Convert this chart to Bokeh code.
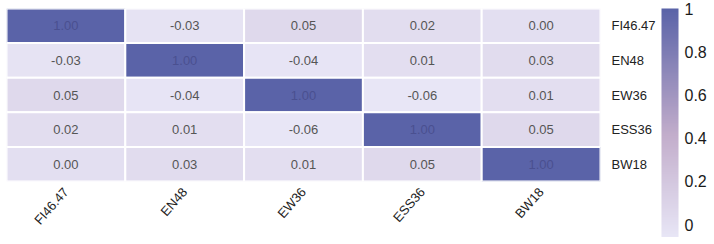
import numpy as np
from bokeh.plotting import figure
from bokeh.layouts import row
from bokeh.models import (ColumnDataSource, FactorRange, LinearColorMapper, ColorBar,
                          FixedTicker, CustomJSTickFormatter)
from bokeh.transform import transform
from bokeh.core.properties import value
from bokeh.embed import file_html
from bokeh.resources import INLINE

labels = ["FI46.47", "EN48", "EW36", "ESS36", "BW18"]
corr = [
    [1.00, -0.03, 0.05, 0.02, 0.00],
    [-0.03, 1.00, -0.04, 0.01, 0.03],
    [0.05, -0.04, 1.00, -0.06, 0.01],
    [0.02, 0.01, -0.06, 1.00, 0.05],
    [0.00, 0.03, 0.01, 0.05, 1.00],
]
cbar_ticks = [0, 0.2, 0.4, 0.6, 0.8, 1]

# palette built from a few colour stops
stops = [(0.0, (0xe8, 0xe6, 0xf6)), (0.45, (0xc2, 0xad, 0xcb)), (1.0, (0x5a, 0x63, 0xa8))]
palette = []
for t in np.linspace(0, 1, 256):
    for (p0, c0), (p1, c1) in zip(stops[:-1], stops[1:]):
        if p0 <= t <= p1:
            f = (t - p0) / (p1 - p0)
            c = [int(round(a + (b - a) * f)) for a, b in zip(c0, c1)]
            palette.append("#%02x%02x%02x" % tuple(c))
            break
mapper = LinearColorMapper(palette=palette, low=-0.06, high=1.0)

xs, ys, vs, txt, tcol = [], [], [], [], []
for i, rl in enumerate(labels):
    for j, cl in enumerate(labels):
        v = corr[i][j]
        xs.append(cl); ys.append(rl); vs.append(v)
        txt.append("%.2f" % v)
        tcol.append("#4a5090" if v > 0.5 else "#555555")
src = ColumnDataSource(dict(x=xs, y=ys, v=vs, t=txt, c=tcol))

FONT = "Liberation Sans"
p = figure(x_range=FactorRange(*labels),
           y_range=FactorRange(*reversed(labels)), output_backend="svg",
           toolbar_location=None, x_axis_location="below", y_axis_location="right",
           min_border_left=6, min_border_top=8, min_border_bottom=0, min_border_right=0)
p.frame_width = 594
p.frame_height = 173
p.rect("x", "y", width=1, height=1, source=src, fill_color=transform("v", mapper),
       line_color="white", line_width=2)
p.text("x", "y", text="t", source=src, text_color="c", text_align="center",
       text_baseline="middle", text_font=value(FONT), text_font_size="13px")
p.outline_line_color = None
p.grid.grid_line_color = None
for ax in (p.xaxis[0], p.yaxis[0]):
    ax.axis_line_color = None
    ax.major_tick_line_color = None
    ax.minor_tick_line_color = None
    ax.major_label_text_font = FONT
    ax.major_label_text_font_size = "13px"
    ax.major_label_text_color = "#222222"
p.xaxis.major_label_orientation = 0.85
p.xaxis.major_label_standoff = 2
p.yaxis.major_label_standoff = 5

p2 = figure(output_backend="svg", toolbar_location=None,
            x_axis_location=None, y_axis_location=None,
            min_border_left=0, min_border_top=8, min_border_bottom=0, min_border_right=0)
p2.frame_width = 3
p2.frame_height = 229
p2.outline_line_color = None
p2.grid.grid_line_color = None
cb = ColorBar(color_mapper=mapper, width=17, padding=0, margin=0,
              ticker=FixedTicker(ticks=cbar_ticks),
              formatter=CustomJSTickFormatter(code="return String(Math.round(tick*10)/10)"),
              major_tick_line_color=None, minor_tick_line_color=None, bar_line_color=None,
              border_line_color=None, background_fill_alpha=0, label_standoff=6,
              major_label_text_font=FONT, major_label_text_font_size="16px",
              major_label_text_color="#1a1a1a")
p2.add_layout(cb, "right")

layout = row(p, p2, spacing=0)
open("out.html", "w").write(file_html(layout, INLINE))
